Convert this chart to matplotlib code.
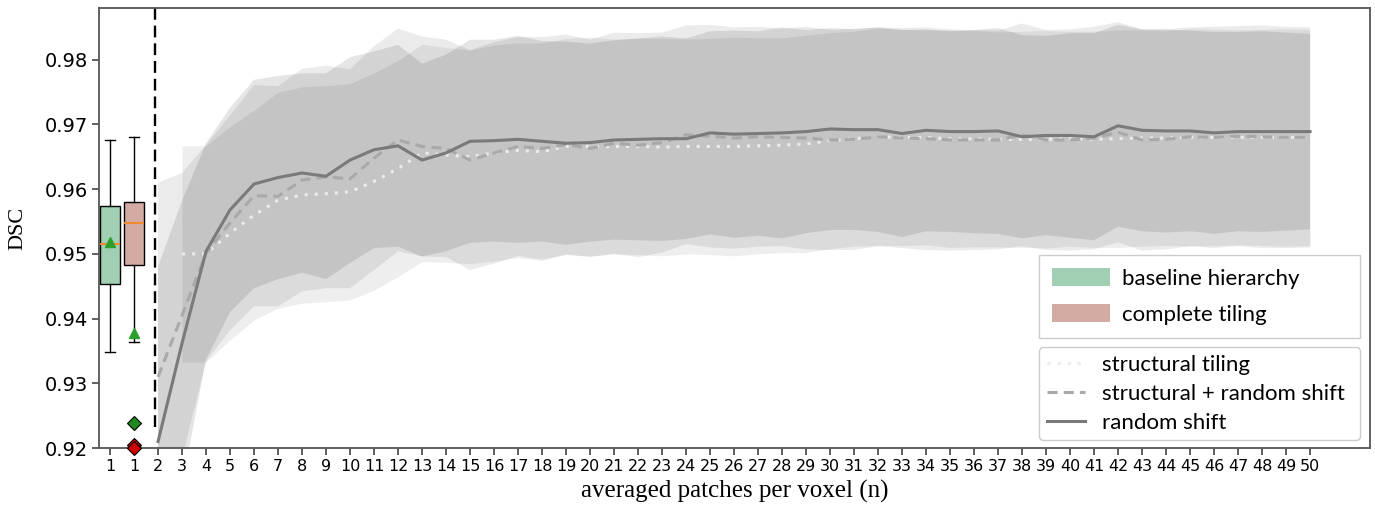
import numpy as np
import matplotlib
matplotlib.use("Agg")
import matplotlib.pyplot as plt
from matplotlib.patches import Patch

# averaged patches per voxel
n_vals = list(range(2, 51))
n_tiling = list(range(3, 51))

# mean DSC per n
random_shift_mean = [
    0.9210, 0.9362, 0.9504, 0.9568, 0.9608, 0.9618, 0.9625, 0.9620, 0.9645, 0.9661,
    0.9667, 0.9645, 0.9656, 0.9674, 0.9675, 0.9677, 0.9674, 0.9671, 0.9672, 0.9676,
    0.9677, 0.9678, 0.9678, 0.9687, 0.9685, 0.9686, 0.9687, 0.9689, 0.9693, 0.9692,
    0.9692, 0.9686, 0.9691, 0.9689, 0.9689, 0.9690, 0.9681, 0.9683, 0.9683, 0.9681,
    0.9698, 0.9691, 0.9690, 0.9690, 0.9687, 0.9689, 0.9689, 0.9689, 0.9689,
]
struct_random_mean = [
    0.9310, 0.9405, 0.9501, 0.9548, 0.9590, 0.9589, 0.9614, 0.9619, 0.9616, 0.9648,
    0.9676, 0.9666, 0.9663, 0.9645, 0.9656, 0.9666, 0.9663, 0.9669, 0.9663, 0.9671,
    0.9668, 0.9672, 0.9684, 0.9682, 0.9679, 0.9681, 0.9680, 0.9679, 0.9676, 0.9677,
    0.9681, 0.9679, 0.9678, 0.9676, 0.9676, 0.9676, 0.9684, 0.9676, 0.9676, 0.9679,
    0.9688, 0.9676, 0.9677, 0.9681, 0.9680, 0.9682, 0.9681, 0.9680, 0.9680,
]
struct_tiling_mean = [
    0.9500, 0.9500, 0.9532, 0.9560, 0.9583, 0.9591, 0.9593, 0.9596, 0.9612, 0.9632,
    0.9656, 0.9653, 0.9650, 0.9656, 0.9660, 0.9658, 0.9666, 0.9666, 0.9666, 0.9666,
    0.9665, 0.9666, 0.9666, 0.9666, 0.9667, 0.9668, 0.9670, 0.9675, 0.9678, 0.9681,
    0.9680, 0.9680, 0.9678, 0.9678, 0.9677, 0.9677, 0.9677, 0.9678, 0.9677, 0.9678,
    0.9679, 0.9679, 0.9680, 0.9680, 0.9680, 0.9680, 0.9680, 0.9680,
]

# standard deviation per n
random_shift_sd = [
    0.0270, 0.0220, 0.0167, 0.0158, 0.0161, 0.0157, 0.0154, 0.0159, 0.0159, 0.0152,
    0.0156, 0.0149, 0.0152, 0.0157, 0.0156, 0.0160, 0.0155, 0.0157, 0.0153, 0.0154,
    0.0156, 0.0158, 0.0155, 0.0157, 0.0160, 0.0158, 0.0163, 0.0157, 0.0156, 0.0155,
    0.0158, 0.0160, 0.0156, 0.0155, 0.0157, 0.0159, 0.0157, 0.0154, 0.0158, 0.0160,
    0.0156, 0.0156, 0.0157, 0.0155, 0.0156, 0.0154, 0.0155, 0.0153, 0.0151,
]
struct_random_sd = [
    0.0300, 0.0220, 0.0167, 0.0166, 0.0171, 0.0170, 0.0172, 0.0172, 0.0169, 0.0173,
    0.0172, 0.0170, 0.0168, 0.0170, 0.0171, 0.0169, 0.0172, 0.0170, 0.0168, 0.0171,
    0.0173, 0.0170, 0.0169, 0.0172, 0.0171, 0.0170, 0.0168, 0.0172, 0.0170, 0.0171,
    0.0169, 0.0170, 0.0172, 0.0171, 0.0170, 0.0169, 0.0172, 0.0170, 0.0171, 0.0172,
    0.0170, 0.0171, 0.0170, 0.0169, 0.0171, 0.0170, 0.0172, 0.0171, 0.0170,
]
struct_tiling_sd = [
    0.0167, 0.0167, 0.0165, 0.0162, 0.0167, 0.0167, 0.0167, 0.0167, 0.0168, 0.0167,
    0.0168, 0.0166, 0.0165, 0.0167, 0.0166, 0.0168, 0.0167, 0.0169, 0.0166, 0.0167,
    0.0168, 0.0166, 0.0167, 0.0169, 0.0167, 0.0166, 0.0168, 0.0167, 0.0166, 0.0168,
    0.0167, 0.0166, 0.0168, 0.0167, 0.0166, 0.0167, 0.0168, 0.0166, 0.0167, 0.0168,
    0.0167, 0.0166, 0.0168, 0.0167, 0.0166, 0.0167, 0.0168, 0.0167,
]

# boxplots (n = 1)
box_labels = ["baseline hierarchy", "complete tiling"]
box_med = [0.9516, 0.9547]
box_q1 = [0.9454, 0.9483]
box_q3 = [0.9574, 0.9580]
box_whislo = [0.9348, 0.9364]
box_whishi = [0.9676, 0.9680]
box_mean = [0.9519, 0.9377]
outlier_green = [0.9238]
outlier_red = [0.9205, 0.9200]

box_colors = ["#a0cfb4", "#d3aba3"]

fig = plt.figure(figsize=(13.75, 5.09), dpi=100)
ax = fig.add_axes([0.072, 0.1198, 0.9244, 0.8645])

series = [
    (n_tiling, struct_tiling_mean, struct_tiling_sd, 0.065),
    (n_vals, struct_random_mean, struct_random_sd, 0.08),
    (n_vals, random_shift_mean, random_shift_sd, 0.10),
]
for xs, m, s, a in series:
    m = np.array(m)
    s = np.array(s)
    ax.fill_between(xs, m - s, m + s, color="black", alpha=a, lw=0, zorder=1)

ax.plot(n_tiling, struct_tiling_mean, color="#ececec", lw=2.2, dashes=(1, 2.3),
        label="structural tiling", zorder=3)
ax.plot(n_vals, struct_random_mean, color="#a9a9a9", lw=2.2, dashes=(3.3, 2),
        label="structural + random shift", zorder=3)
ax.plot(n_vals, random_shift_mean, color="#7a7a7a", lw=2.2,
        label="random shift", zorder=4)

stats = []
for i in range(2):
    stats.append(dict(med=box_med[i], q1=box_q1[i], q3=box_q3[i],
                      whislo=box_whislo[i], whishi=box_whishi[i],
                      mean=box_mean[i], fliers=[], label=box_labels[i]))
bp = ax.bxp(stats, positions=[0, 1], widths=0.8, showmeans=True, patch_artist=True,
            showfliers=False,
            medianprops=dict(color="#f08a30", lw=1.5),
            meanprops=dict(marker="^", markerfacecolor="#2ca02c", markeredgecolor="#2ca02c",
                           markersize=7),
            boxprops=dict(edgecolor="black", lw=1.0),
            whiskerprops=dict(color="black", lw=1.0),
            capprops=dict(color="black", lw=1.0))
for patch, c in zip(bp["boxes"], box_colors):
    patch.set_facecolor(c)

ax.plot([1] * len(outlier_green), outlier_green, ls="none", marker="D", ms=7,
        mfc="#1f8a1f", mec="black", mew=0.8, clip_on=False, zorder=5)
ax.plot([1] * len(outlier_red), outlier_red, ls="none", marker="D", ms=7,
        mfc="#d00000", mec="black", mew=0.8, clip_on=False, zorder=5)

ax.plot([1.88, 1.88], [0.9232, 0.99], color="black", lw=1.7, dashes=(5, 2.5), zorder=2)

ax.set_xlim(-0.46, 52.5)
ax.set_ylim(0.92, 0.988)
ax.set_xticks(list(range(0, 51)))
ax.set_xticklabels(["1", "1"] + [str(n) for n in n_vals], fontsize=11.5)
ax.set_yticks([0.92, 0.93, 0.94, 0.95, 0.96, 0.97, 0.98])
ax.set_yticklabels(["0.92", "0.93", "0.94", "0.95", "0.96", "0.97", "0.98"], fontsize=14)
ax.tick_params(axis="both", length=5, width=1.2, color="#444444", pad=3)
for sp in ax.spines.values():
    sp.set_color("#555555")
    sp.set_linewidth(1.3)

ax.set_xlabel("averaged patches per voxel (n)", family="Liberation Serif", fontsize=18, labelpad=4)
ax.set_ylabel("DSC", family="Liberation Serif", fontsize=16, labelpad=12)

leg_font = dict(family="Lato", size=16)
h1 = [Patch(facecolor=c, edgecolor="none") for c in box_colors]
leg1 = ax.legend(h1, box_labels, loc="upper left", bbox_to_anchor=(0.7396, 0.4386, 0.2524, 0.0),
                 mode="expand", borderaxespad=0, prop=leg_font, handlelength=2.6,
                 handleheight=0.85, handletextpad=0.55, labelspacing=0.69, borderpad=0.6,
                 framealpha=1, edgecolor="#cccccc", fancybox=False)
ax.add_artist(leg1)
h2, l2 = ax.get_legend_handles_labels()
ax.legend(h2[:3], l2[:3], loc="upper left", bbox_to_anchor=(0.7396, 0.2295, 0.2524, 0.0),
          mode="expand", borderaxespad=0, prop=leg_font, handlelength=1.7,
          handletextpad=0.8, labelspacing=0.4, borderpad=0.35, framealpha=1,
          edgecolor="#cccccc")

fig.savefig("out.png", dpi=100)
